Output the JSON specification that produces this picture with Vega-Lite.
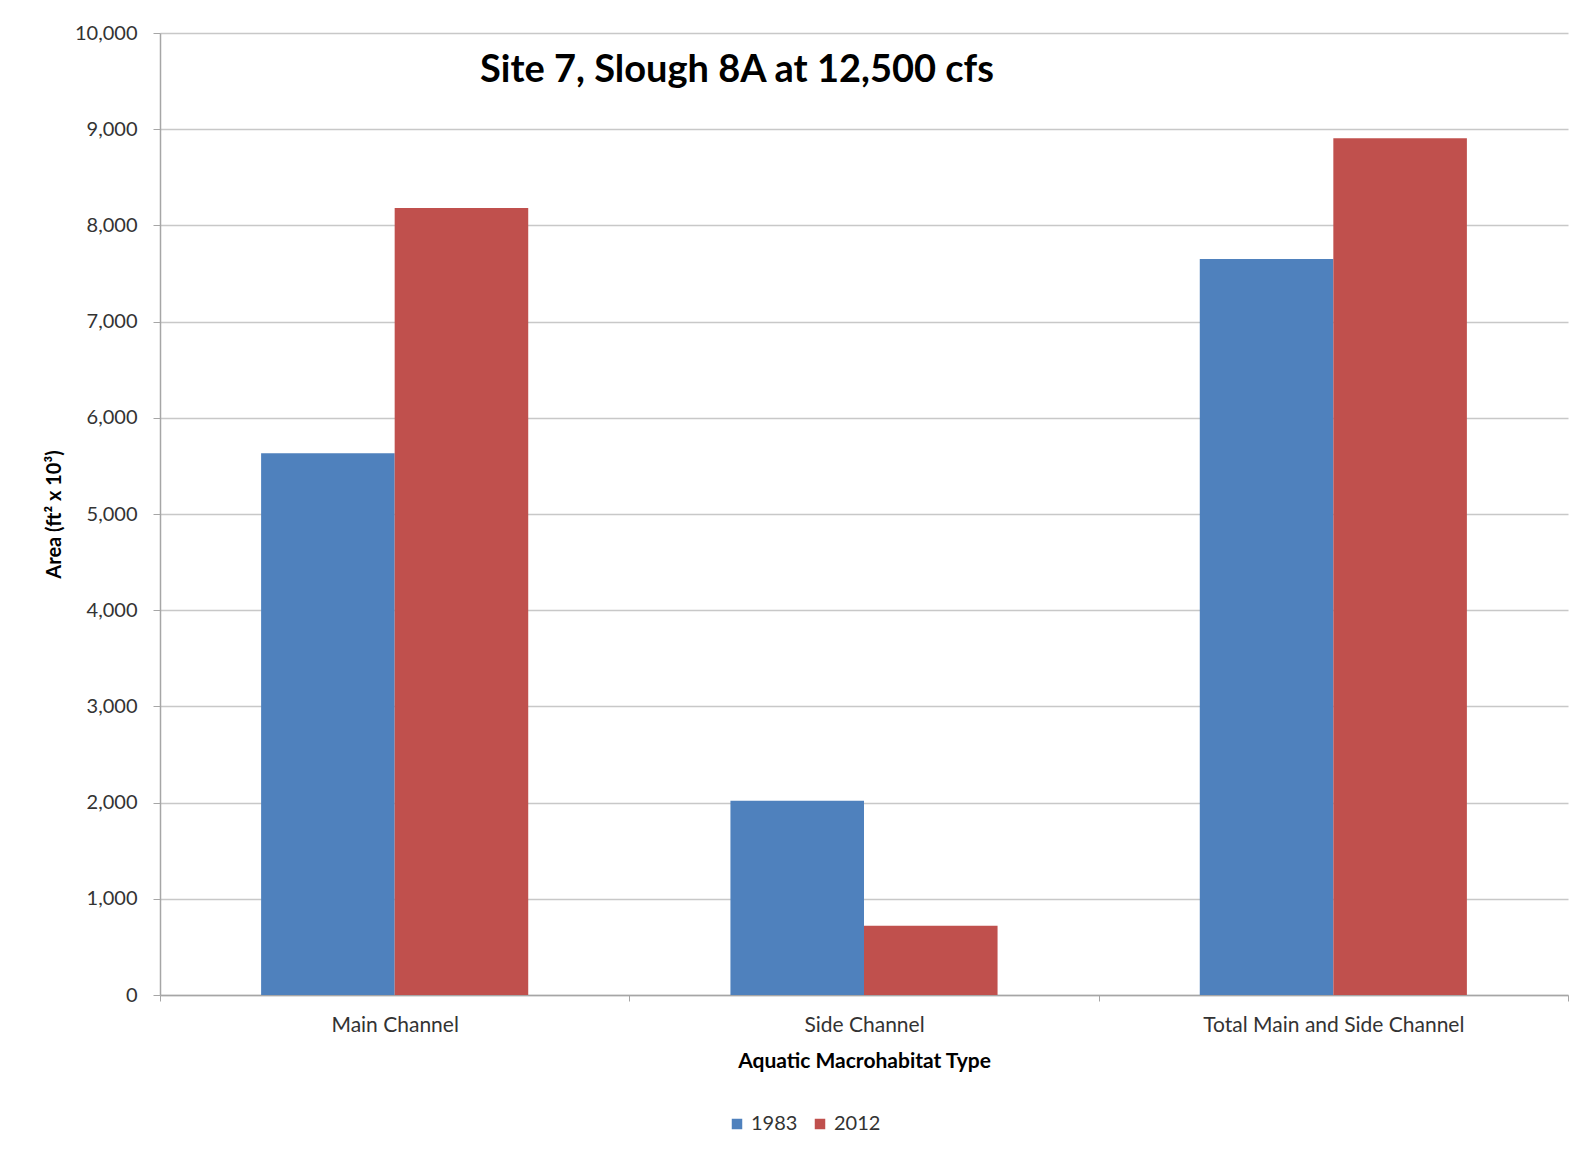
{
  "$schema": "https://vega.github.io/schema/vega-lite/v6.json",
  "autosize": {"type": "none"},
  "padding": {"left": 160, "top": 33, "right": 8, "bottom": 158},
  "width": 1408,
  "height": 962,
  "background": "white",
  "title": {
    "text": "Site 7, Slough 8A at 12,500 cfs",
    "font": "Lato",
    "fontSize": 38,
    "fontWeight": "bold",
    "color": "#000000",
    "anchor": "middle",
    "frame": "group",
    "baseline": "bottom",
    "dx": -127,
    "offset": -105
  },
  "data": {
    "values": [
      {"type": "Main Channel", "year": "1983", "area": 5631},
      {"type": "Main Channel", "year": "2012", "area": 8180},
      {"type": "Side Channel", "year": "1983", "area": 2020},
      {"type": "Side Channel", "year": "2012", "area": 720},
      {"type": "Total Main and Side Channel", "year": "1983", "area": 7650},
      {"type": "Total Main and Side Channel", "year": "2012", "area": 8906}
    ]
  },
  "mark": {"type": "bar"},
  "encoding": {
    "x": {
      "field": "type",
      "type": "nominal",
      "sort": null,
      "scale": {"paddingInner": 0, "paddingOuter": 0},
      "axis": {
        "title": "Aquatic Macrohabitat Type",
        "titleFont": "Lato",
        "titleFontSize": 21,
        "titleFontWeight": "bold",
        "titleColor": "#000000",
        "titlePadding": 15,
        "labelFont": "Lato",
        "labelFontSize": 21,
        "labelColor": "#333333",
        "labelAngle": 0,
        "labelPadding": 13,
        "labelLimit": 0,
        "tickBand": "extent",
        "tickSize": 6,
        "tickColor": "#a6a6a6",
        "domainColor": "#a6a6a6",
        "domainWidth": 1.5
      }
    },
    "xOffset": {
      "field": "year",
      "type": "nominal",
      "scale": {"paddingInner": 0, "paddingOuter": 0.757}
    },
    "y": {
      "field": "area",
      "type": "quantitative",
      "scale": {"domain": [0, 10000], "nice": false},
      "axis": {
        "title": "Area (ft² x 10³)",
        "titleFont": "Lato",
        "titleFontSize": 20,
        "titleFontWeight": "bold",
        "titleColor": "#000000",
        "titlePadding": 10,
        "values": [0, 1000, 2000, 3000, 4000, 5000, 6000, 7000, 8000, 9000, 10000],
        "format": ",d",
        "labelFont": "Lato",
        "labelFontSize": 20,
        "labelColor": "#333333",
        "labelPadding": 16,
        "tickSize": 7,
        "tickColor": "#a6a6a6",
        "domainColor": "#a6a6a6",
        "domainWidth": 1.5,
        "grid": true,
        "gridColor": "#c8c8c8",
        "gridWidth": 1.5
      }
    },
    "color": {
      "field": "year",
      "type": "nominal",
      "scale": {"domain": ["1983", "2012"], "range": ["#4F81BD", "#C0504D"]},
      "legend": {
        "title": null,
        "orient": "none",
        "legendX": 567,
        "legendY": 1081,
        "direction": "horizontal",
        "symbolType": "square",
        "symbolSize": 110,
        "symbolStrokeWidth": 0,
        "labelFont": "Lato",
        "labelFontSize": 20,
        "labelColor": "#333333",
        "labelOffset": 4,
        "columnPadding": 12
      }
    }
  },
  "config": {
    "view": {"stroke": null}
  }
}
